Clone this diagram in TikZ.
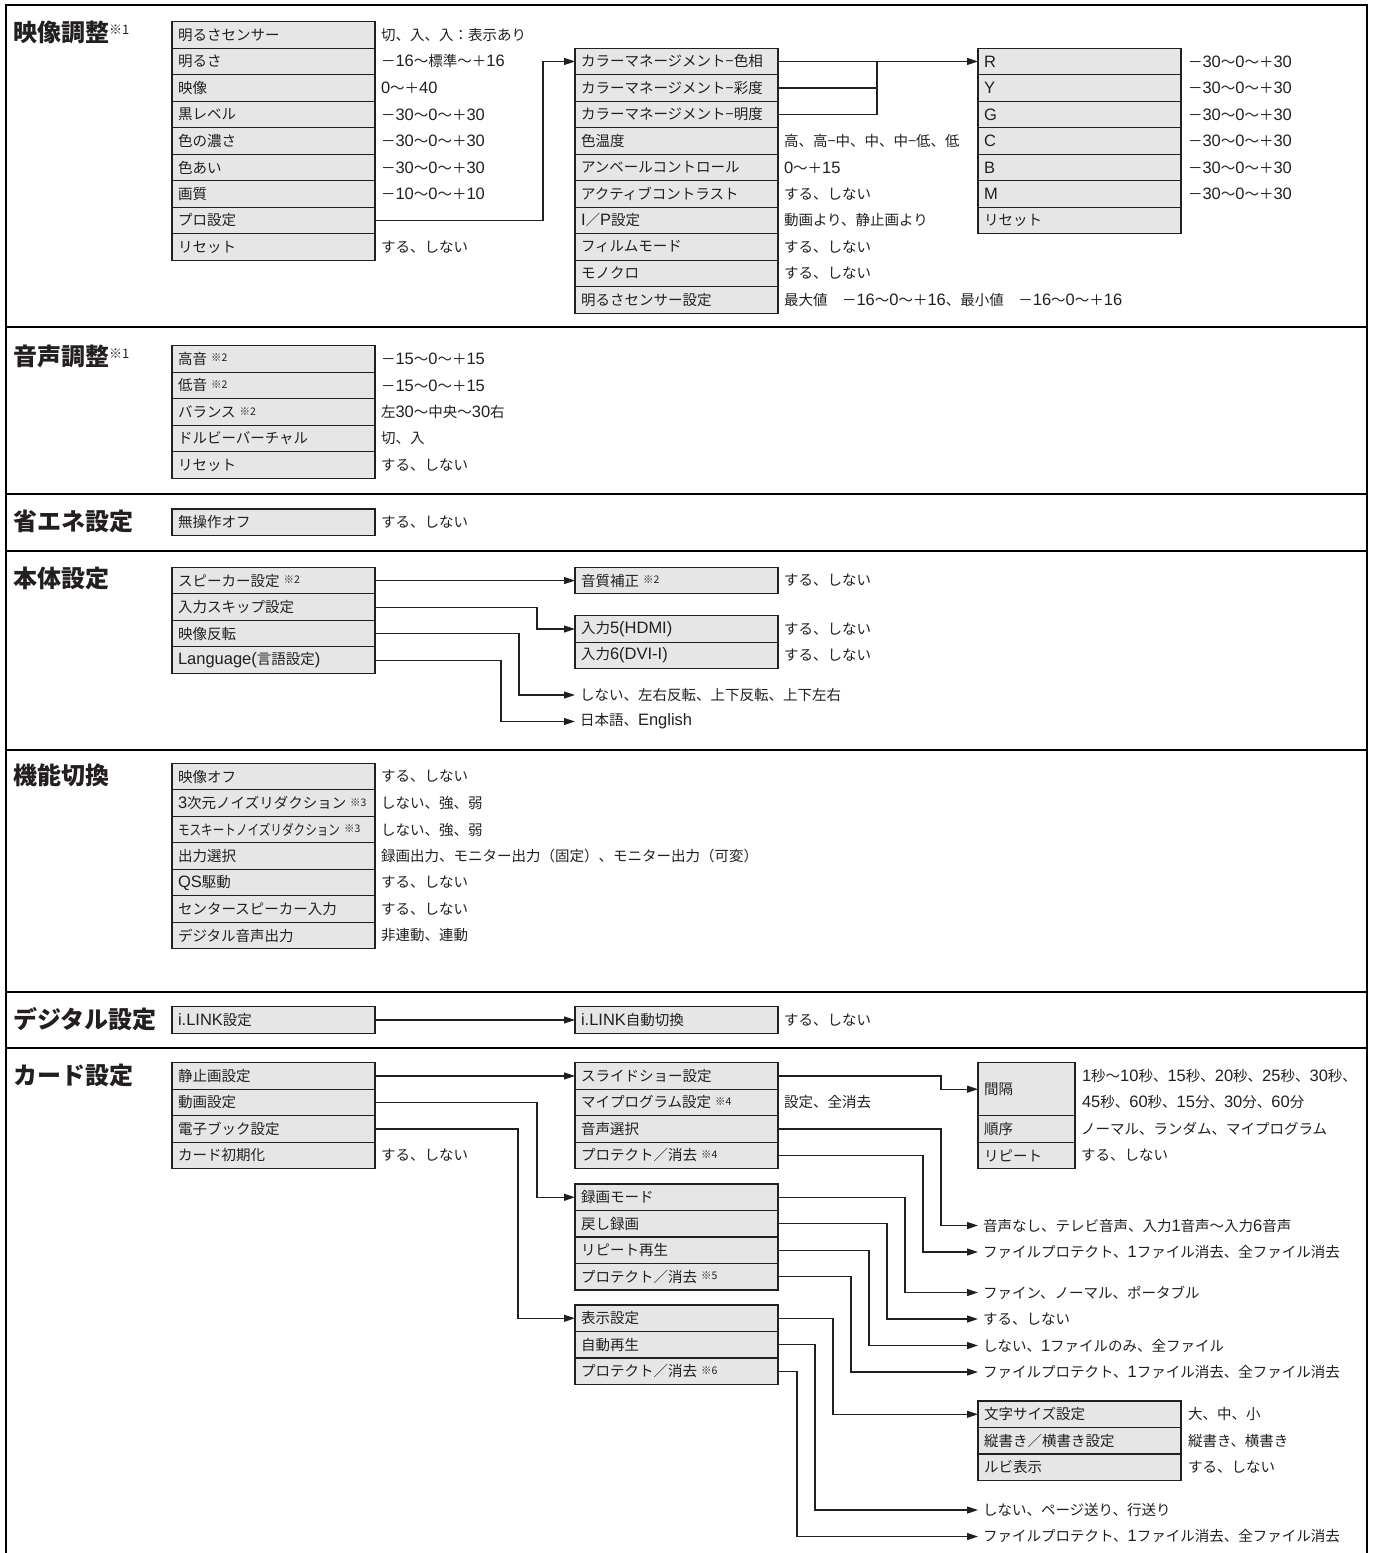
\documentclass[tikz,border=0pt]{standalone}
\usepackage{fontspec}
\setmainfont{Noto Sans CJK JP}
\newfontfamily\latf{Liberation Sans}
\usetikzlibrary{arrows.meta,calc}
\definecolor{boxgray}{HTML}{E6E6E6}
\definecolor{ink}{HTML}{231F20}
\newcommand{\La}[1]{{\latf\fontsize{16.5}{16.5}\selectfont #1}}
\newcommand{\knote}[1]{\kern4pt\raisebox{2.5pt}{\fontsize{10.5}{10.5}\selectfont ※#1}}
\newcommand{\tnote}[1]{\raisebox{7pt}{\fontsize{13}{13}\selectfont\mdseries ※#1}}
\newcommand{\rng}[1]{－\La{#1}〜\La{0}〜＋\La{#1}}
\newcommand{\fpro}{ファイルプロテクト、\La{1}ファイル消去、全ファイル消去}
\begin{document}
\begin{tikzpicture}[x=1pt,y=-1pt,
  every node/.style={font=\fontsize{14.5}{16}\selectfont, text=ink},
  cell/.style={draw=ink, line width=1.2pt, fill=boxgray, rectangle, outer sep=0pt,
    minimum width=203pt, minimum height=26.5pt, text width=191pt, inner xsep=6pt,
    inner ysep=0pt, align=left, anchor=north west},
  dcell/.style={cell, minimum width=97pt, text width=85pt},
  val/.style={anchor=west, inner sep=0pt, outer sep=0pt},
  tgt/.style={anchor=west, inner xsep=5pt, inner ysep=0pt, outer sep=0pt},
  ttl/.style={anchor=west, inner sep=0pt, font=\fontsize{24}{24}\selectfont\bfseries},
  frame/.style={draw=black, line width=2pt},
  wire/.style={draw=ink, line width=1.1pt},
  conn/.style={wire, -{Triangle[length=11pt,width=7pt]}}
]
\useasboundingbox (0,0) rectangle (1374,1553);
% frame and separators
\draw[frame] (6,1553) -- (6,5) -- (1367,5) -- (1367,1553);
\foreach \yy in {327.3,494,550.7,750,991.7,1048}{\draw[frame] (6,\yy) -- (1367,\yy);}

% ===== Section 1 =====
\node[ttl] (T1) at (13,32) {映像調整\tnote{1}};
\node[cell] (a1) at (172,21.7) {明るさセンサー};
\node[cell] (a2) at (a1.south west) {明るさ};
\node[cell] (a3) at (a2.south west) {映像};
\node[cell] (a4) at (a3.south west) {黒レベル};
\node[cell] (a5) at (a4.south west) {色の濃さ};
\node[cell] (a6) at (a5.south west) {色あい};
\node[cell] (a7) at (a6.south west) {画質};
\node[cell] (a8) at (a7.south west) {プロ設定};
\node[cell] (a9) at (a8.south west) {リセット};
\node[val] (a1v) at ([xshift=6pt]a1.east) {切、入、入：表示あり};
\node[val] (a2v) at ([xshift=6pt]a2.east) {－\La{16}〜標準〜＋\La{16}};
\node[val] (a3v) at ([xshift=6pt]a3.east) {\La{0}〜＋\La{40}};
\node[val] (a4v) at ([xshift=6pt]a4.east) {\rng{30}};
\node[val] (a5v) at ([xshift=6pt]a5.east) {\rng{30}};
\node[val] (a6v) at ([xshift=6pt]a6.east) {\rng{30}};
\node[val] (a7v) at ([xshift=6pt]a7.east) {\rng{10}};
\node[val] (a9v) at ([xshift=6pt]a9.east) {する、しない};

\node[cell] (b1) at (575,48.2) {カラーマネージメント−色相};
\node[cell] (b2) at (b1.south west) {カラーマネージメント−彩度};
\node[cell] (b3) at (b2.south west) {カラーマネージメント−明度};
\node[cell] (b4) at (b3.south west) {色温度};
\node[cell] (b5) at (b4.south west) {アンベールコントロール};
\node[cell] (b6) at (b5.south west) {アクティブコントラスト};
\node[cell] (b7) at (b6.south west) {\La{I}／\La{P}設定};
\node[cell] (b8) at (b7.south west) {フィルムモード};
\node[cell] (b9) at (b8.south west) {モノクロ};
\node[cell] (b10) at (b9.south west) {明るさセンサー設定};
\node[val] (b4v) at ([xshift=6pt]b4.east) {高、高−中、中、中−低、低};
\node[val] (b5v) at ([xshift=6pt]b5.east) {\La{0}〜＋\La{15}};
\node[val] (b6v) at ([xshift=6pt]b6.east) {する、しない};
\node[val] (b7v) at ([xshift=6pt]b7.east) {動画より、静止画より};
\node[val] (b8v) at ([xshift=6pt]b8.east) {する、しない};
\node[val] (b9v) at ([xshift=6pt]b9.east) {する、しない};
\node[val] (b10v) at ([xshift=6pt]b10.east) {最大値　\rng{16}、最小値　\rng{16}};

\node[cell] (c1) at (978,48.2) {\La{R}};
\node[cell] (c2) at (c1.south west) {\La{Y}};
\node[cell] (c3) at (c2.south west) {\La{G}};
\node[cell] (c4) at (c3.south west) {\La{C}};
\node[cell] (c5) at (c4.south west) {\La{B}};
\node[cell] (c6) at (c5.south west) {\La{M}};
\node[cell] (c7) at (c6.south west) {リセット};
\foreach \n in {1,...,6}{\node[val] (c\n v) at ([xshift=7pt]c\n.east) {\rng{30}};}

\draw[conn] (a8.east) -- ++(168,0) |- (b1.west);
\coordinate (j1) at ([xshift=99pt]b1.east);
\draw[wire] (b2.east) -| (j1);
\draw[wire] (b3.east) -| (j1);
\draw[conn] (b1.east) -- (c1.west);

% ===== Section 2 =====
\node[ttl] (T2) at (13,356) {音声調整\tnote{1}};
\node[cell] (s1) at (172,345.7) {高音\knote{2}};
\node[cell] (s2) at (s1.south west) {低音\knote{2}};
\node[cell] (s3) at (s2.south west) {バランス\knote{2}};
\node[cell] (s4) at (s3.south west) {ドルビーバーチャル};
\node[cell] (s5) at (s4.south west) {リセット};
\node[val] (s1v) at ([xshift=6pt]s1.east) {\rng{15}};
\node[val] (s2v) at ([xshift=6pt]s2.east) {\rng{15}};
\node[val] (s3v) at ([xshift=6pt]s3.east) {左\La{30}〜中央〜\La{30}右};
\node[val] (s4v) at ([xshift=6pt]s4.east) {切、入};
\node[val] (s5v) at ([xshift=6pt]s5.east) {する、しない};

% ===== Section 3 =====
\node[ttl] (T3) at (13,521) {省エネ設定};
\node[cell] (e1) at (172,509) {無操作オフ};
\node[val] (e1v) at ([xshift=6pt]e1.east) {する、しない};

% ===== Section 4 =====
\node[ttl] (T4) at (13,578) {本体設定};
\node[cell] (d1) at (172,567.3) {スピーカー設定\knote{2}};
\node[cell] (d2) at (d1.south west) {入力スキップ設定};
\node[cell] (d3) at (d2.south west) {映像反転};
\node[cell] (d4) at (d3.south west) {\La{Language(}言語設定\La{)}};
\node[cell] (m1) at (575,567.3) {音質補正\knote{2}};
\node[val] (m1v) at ([xshift=6pt]m1.east) {する、しない};
\node[cell] (n1) at (575,615.75) {入力\La{5(HDMI)}};
\node[cell] (n2) at (n1.south west) {入力\La{6(DVI-I)}};
\node[val] (n1v) at ([xshift=6pt]n1.east) {する、しない};
\node[val] (n2v) at ([xshift=6pt]n2.east) {する、しない};
\node[tgt] (t1) at (575,695) {しない、左右反転、上下反転、上下左右};
\node[tgt] (t2) at (575,721.5) {日本語、\La{English}};
\draw[conn] (d1.east) -- (m1.west);
\draw[conn] (d2.east) -- ++(162,0) |- (n1.west);
\draw[conn] (d3.east) -- ++(144,0) |- (t1.west);
\draw[conn] (d4.east) -- ++(126,0) |- (t2.west);

% ===== Section 5 =====
\node[ttl] (T5) at (13,775) {機能切換};
\node[cell] (f1) at (172,763.3) {映像オフ};
\node[cell] (f2) at (f1.south west) {\La{3}次元ノイズリダクション\knote{3}};
\node[cell] (f3) at (f2.south west) {\scalebox{0.8}[1]{モスキートノイズリダクション}\knote{3}};
\node[cell] (f4) at (f3.south west) {出力選択};
\node[cell] (f5) at (f4.south west) {\La{QS}駆動};
\node[cell] (f6) at (f5.south west) {センタースピーカー入力};
\node[cell] (f7) at (f6.south west) {デジタル音声出力};
\node[val] (f1v) at ([xshift=6pt]f1.east) {する、しない};
\node[val] (f2v) at ([xshift=6pt]f2.east) {しない、強、弱};
\node[val] (f3v) at ([xshift=6pt]f3.east) {しない、強、弱};
\node[val] (f4v) at ([xshift=6pt]f4.east) {録画出力、モニター出力（固定）、モニター出力（可変）};
\node[val] (f5v) at ([xshift=6pt]f5.east) {する、しない};
\node[val] (f6v) at ([xshift=6pt]f6.east) {する、しない};
\node[val] (f7v) at ([xshift=6pt]f7.east) {非連動、連動};

% ===== Section 6 =====
\node[ttl] (T6) at (13,1019) {デジタル設定};
\node[cell] (l1) at (172,1006.7) {\La{i.LINK}設定};
\node[cell] (l2) at (575,1006.7) {\La{i.LINK}自動切換};
\node[val] (l2v) at ([xshift=6pt]l2.east) {する、しない};
\draw[conn] (l1.east) -- (l2.west);

% ===== Section 7 =====
\node[ttl] (T7) at (13,1075) {カード設定};
\node[cell] (g1) at (172,1062.7) {静止画設定};
\node[cell] (g2) at (g1.south west) {動画設定};
\node[cell] (g3) at (g2.south west) {電子ブック設定};
\node[cell] (g4) at (g3.south west) {カード初期化};
\node[val] (g4v) at ([xshift=6pt]g4.east) {する、しない};

\node[cell] (h1) at (575,1062.7) {スライドショー設定};
\node[cell] (h2) at (h1.south west) {マイプログラム設定\knote{4}};
\node[cell] (h3) at (h2.south west) {音声選択};
\node[cell] (h4) at (h3.south west) {プロテクト／消去\knote{4}};
\node[val] (h2v) at ([xshift=6pt]h2.east) {設定、全消去};

\node[cell] (i1) at (575,1184) {録画モード};
\node[cell] (i2) at (i1.south west) {戻し録画};
\node[cell] (i3) at (i2.south west) {リピート再生};
\node[cell] (i4) at (i3.south west) {プロテクト／消去\knote{5}};

\node[cell] (k1) at (575,1305) {表示設定};
\node[cell] (k2) at (k1.south west) {自動再生};
\node[cell] (k3) at (k2.south west) {プロテクト／消去\knote{6}};

\node[dcell, minimum height=53pt] (D1) at (978,1062.7) {間隔};
\node[dcell] (D2) at (D1.south west) {順序};
\node[dcell] (D3) at (D2.south west) {リピート};
\node[val] (D1v) at (1082,1076) {\La{1}秒〜\La{10}秒、\La{15}秒、\La{20}秒、\La{25}秒、\La{30}秒、};
\node[val] (D1w) at (1082,1102.5) {\La{45}秒、\La{60}秒、\La{15}分、\La{30}分、\La{60}分};
\node[val] (D2v) at ([xshift=6pt]D2.east) {ノーマル、ランダム、マイプログラム};
\node[val] (D3v) at ([xshift=6pt]D3.east) {する、しない};

\node[cell] (E1) at (978,1401) {文字サイズ設定};
\node[cell] (E2) at (E1.south west) {縦書き／横書き設定};
\node[cell] (E3) at (E2.south west) {ルビ表示};
\node[val] (E1v) at ([xshift=7pt]E1.east) {大、中、小};
\node[val] (E2v) at ([xshift=7pt]E2.east) {縦書き、横書き};
\node[val] (E3v) at ([xshift=7pt]E3.east) {する、しない};

\node[tgt] (u1) at (978,1225.5) {音声なし、テレビ音声、入力\La{1}音声〜入力\La{6}音声};
\node[tgt] (u2) at (978,1252) {\fpro};
\node[tgt] (u3) at (978,1292.5) {ファイン、ノーマル、ポータブル};
\node[tgt] (u4) at (978,1319) {する、しない};
\node[tgt] (u5) at (978,1345.5) {しない、\La{1}ファイルのみ、全ファイル};
\node[tgt] (u6) at (978,1372) {\fpro};
\node[tgt] (u7) at (978,1510) {しない、ページ送り、行送り};
\node[tgt] (u8) at (978,1536.5) {\fpro};

\draw[conn] (g1.east) -- (h1.west);
\draw[conn] (g2.east) -- ++(162,0) |- (i1.west);
\draw[conn] (g3.east) -- ++(143,0) |- (k1.west);
\draw[conn] (h1.east) -- ++(163,0) |- (D1.west);
\draw[conn] (h3.east) -- ++(163,0) |- (u1.west);
\draw[conn] (h4.east) -- ++(145,0) |- (u2.west);
\draw[conn] (i1.east) -- ++(127,0) |- (u3.west);
\draw[conn] (i2.east) -- ++(109,0) |- (u4.west);
\draw[conn] (i3.east) -- ++(91,0) |- (u5.west);
\draw[conn] (i4.east) -- ++(73,0) |- (u6.west);
\draw[conn] (k1.east) -- ++(55,0) |- (E1.west);
\draw[conn] (k2.east) -- ++(37,0) |- (u7.west);
\draw[conn] (k3.east) -- ++(19,0) |- (u8.west);
\end{tikzpicture}
\end{document}
